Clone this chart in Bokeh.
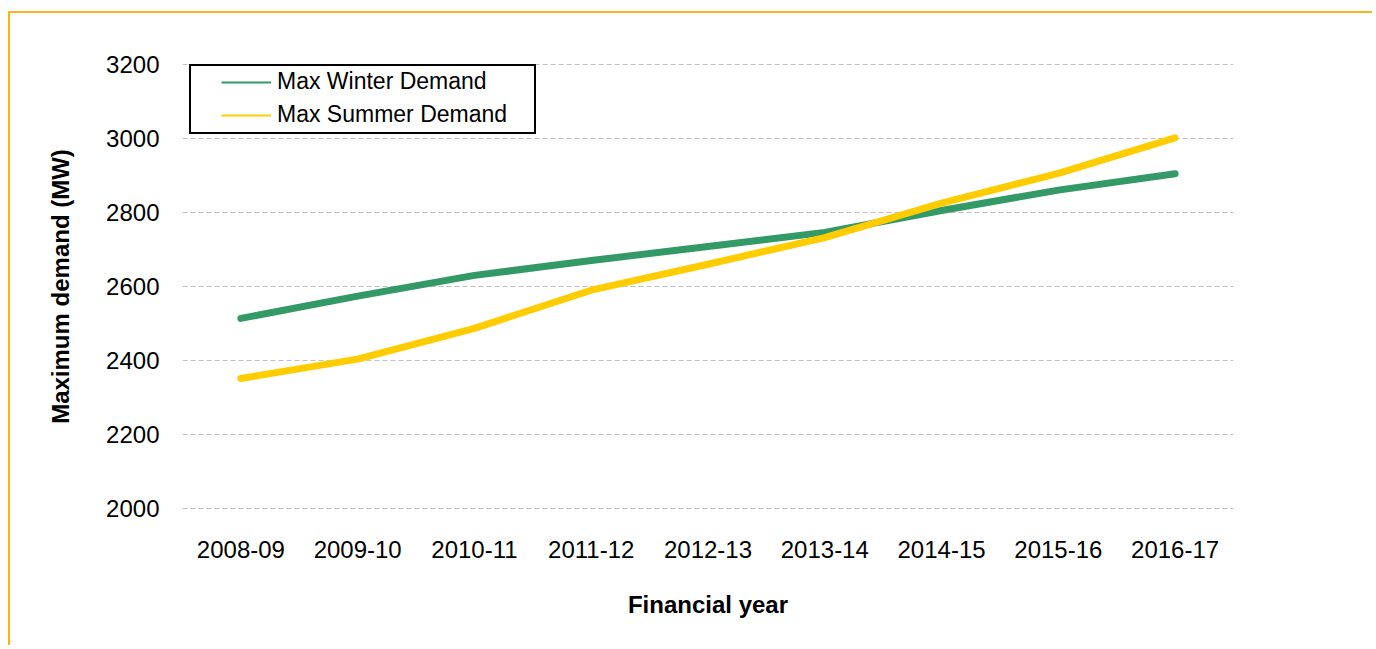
from bokeh.plotting import figure
from bokeh.models import Legend, LegendItem, FactorRange, Range1d, FixedTicker
from bokeh.embed import file_html
from bokeh.resources import INLINE

years = ["2008-09", "2009-10", "2010-11", "2011-12", "2012-13",
         "2013-14", "2014-15", "2015-16", "2016-17"]
winter = [2514, 2574, 2630, 2670, 2708, 2746, 2805, 2860, 2904]
summer = [2352, 2404, 2487, 2590, 2660, 2732, 2825, 2905, 3001]
y_ticks = [2000, 2200, 2400, 2600, 2800, 3000, 3200]

GREEN = "#339966"
YELLOW = "#FFCC00"
FONT = "Liberation Sans"

p = figure(width=1364, height=634,
           x_range=FactorRange(factors=years),
           y_range=Range1d(1998.5, 3201.5),
           output_backend="svg", toolbar_location=None,
           min_border_left=172, min_border_right=141,
           min_border_top=50, min_border_bottom=138)
p.styles = {"border-left": "2px solid #F2B51C", "border-top": "2px solid #F2B51C",
            "margin-left": "8px", "margin-top": "11px"}
p.outline_line_color = None
p.background_fill_color = "white"
p.border_fill_color = "white"

p.xgrid.grid_line_color = None
p.ygrid.grid_line_color = "#BFBFBF"
p.ygrid.grid_line_dash = "5 3"
p.ygrid.grid_line_width = 1

p.yaxis.ticker = FixedTicker(ticks=y_ticks)
for ax in (p.xaxis[0], p.yaxis[0]):
    ax.axis_line_color = None
    ax.major_tick_line_color = None
    ax.minor_tick_line_color = None
    ax.major_tick_out = 0
    ax.major_tick_in = 0
    ax.major_label_text_font = FONT
    ax.major_label_text_font_size = "24px"
    ax.major_label_text_color = "black"
    ax.axis_label_text_font = FONT
    ax.axis_label_text_font_size = "24px"
    ax.axis_label_text_font_style = "bold"
    ax.axis_label_text_color = "black"

p.xaxis.axis_label = "Financial year"
p.yaxis.axis_label = "Maximum demand (MW)"
p.xaxis.major_label_standoff = 31
p.yaxis.major_label_standoff = 23
p.xaxis.axis_label_standoff = 30
p.yaxis.axis_label_standoff = 29

# thin legend samples (hidden beneath the thick lines)
lw = p.line(years, winter, line_color=GREEN, line_width=2)
ls = p.line(years, summer, line_color=YELLOW, line_width=2)
# invisible renderer for legend frame
blank = p.line(years, winter, line_alpha=0)

p.line(years, winter, line_color=GREEN, line_width=7, line_cap="round", line_join="round")
p.line(years, summer, line_color=YELLOW, line_width=7, line_cap="round", line_join="round")

frame_legend = Legend(items=[LegendItem(label=" ", renderers=[blank])],
                      location=(7, 375), padding=0, margin=0, spacing=0,
                      glyph_width=343, glyph_height=66, label_height=66,
                      label_width=0, label_standoff=0,
                      label_text_font_size="1px",
                      border_line_color="black", border_line_width=2,
                      border_line_alpha=1,
                      background_fill_color="white", background_fill_alpha=1)
p.add_layout(frame_legend, "center")

item_legend = Legend(items=[LegendItem(label="Max Winter Demand", renderers=[lw]),
                            LegendItem(label="Max Summer Demand", renderers=[ls])],
                     location=(39, 381), padding=0, margin=0, spacing=6,
                     glyph_width=50, glyph_height=22, label_height=22,
                     label_standoff=6,
                     label_text_font=FONT, label_text_font_size="23px",
                     label_text_color="black",
                     border_line_color=None, background_fill_alpha=0)
p.add_layout(item_legend, "center")

open("out.html", "w").write(file_html(p, INLINE))
